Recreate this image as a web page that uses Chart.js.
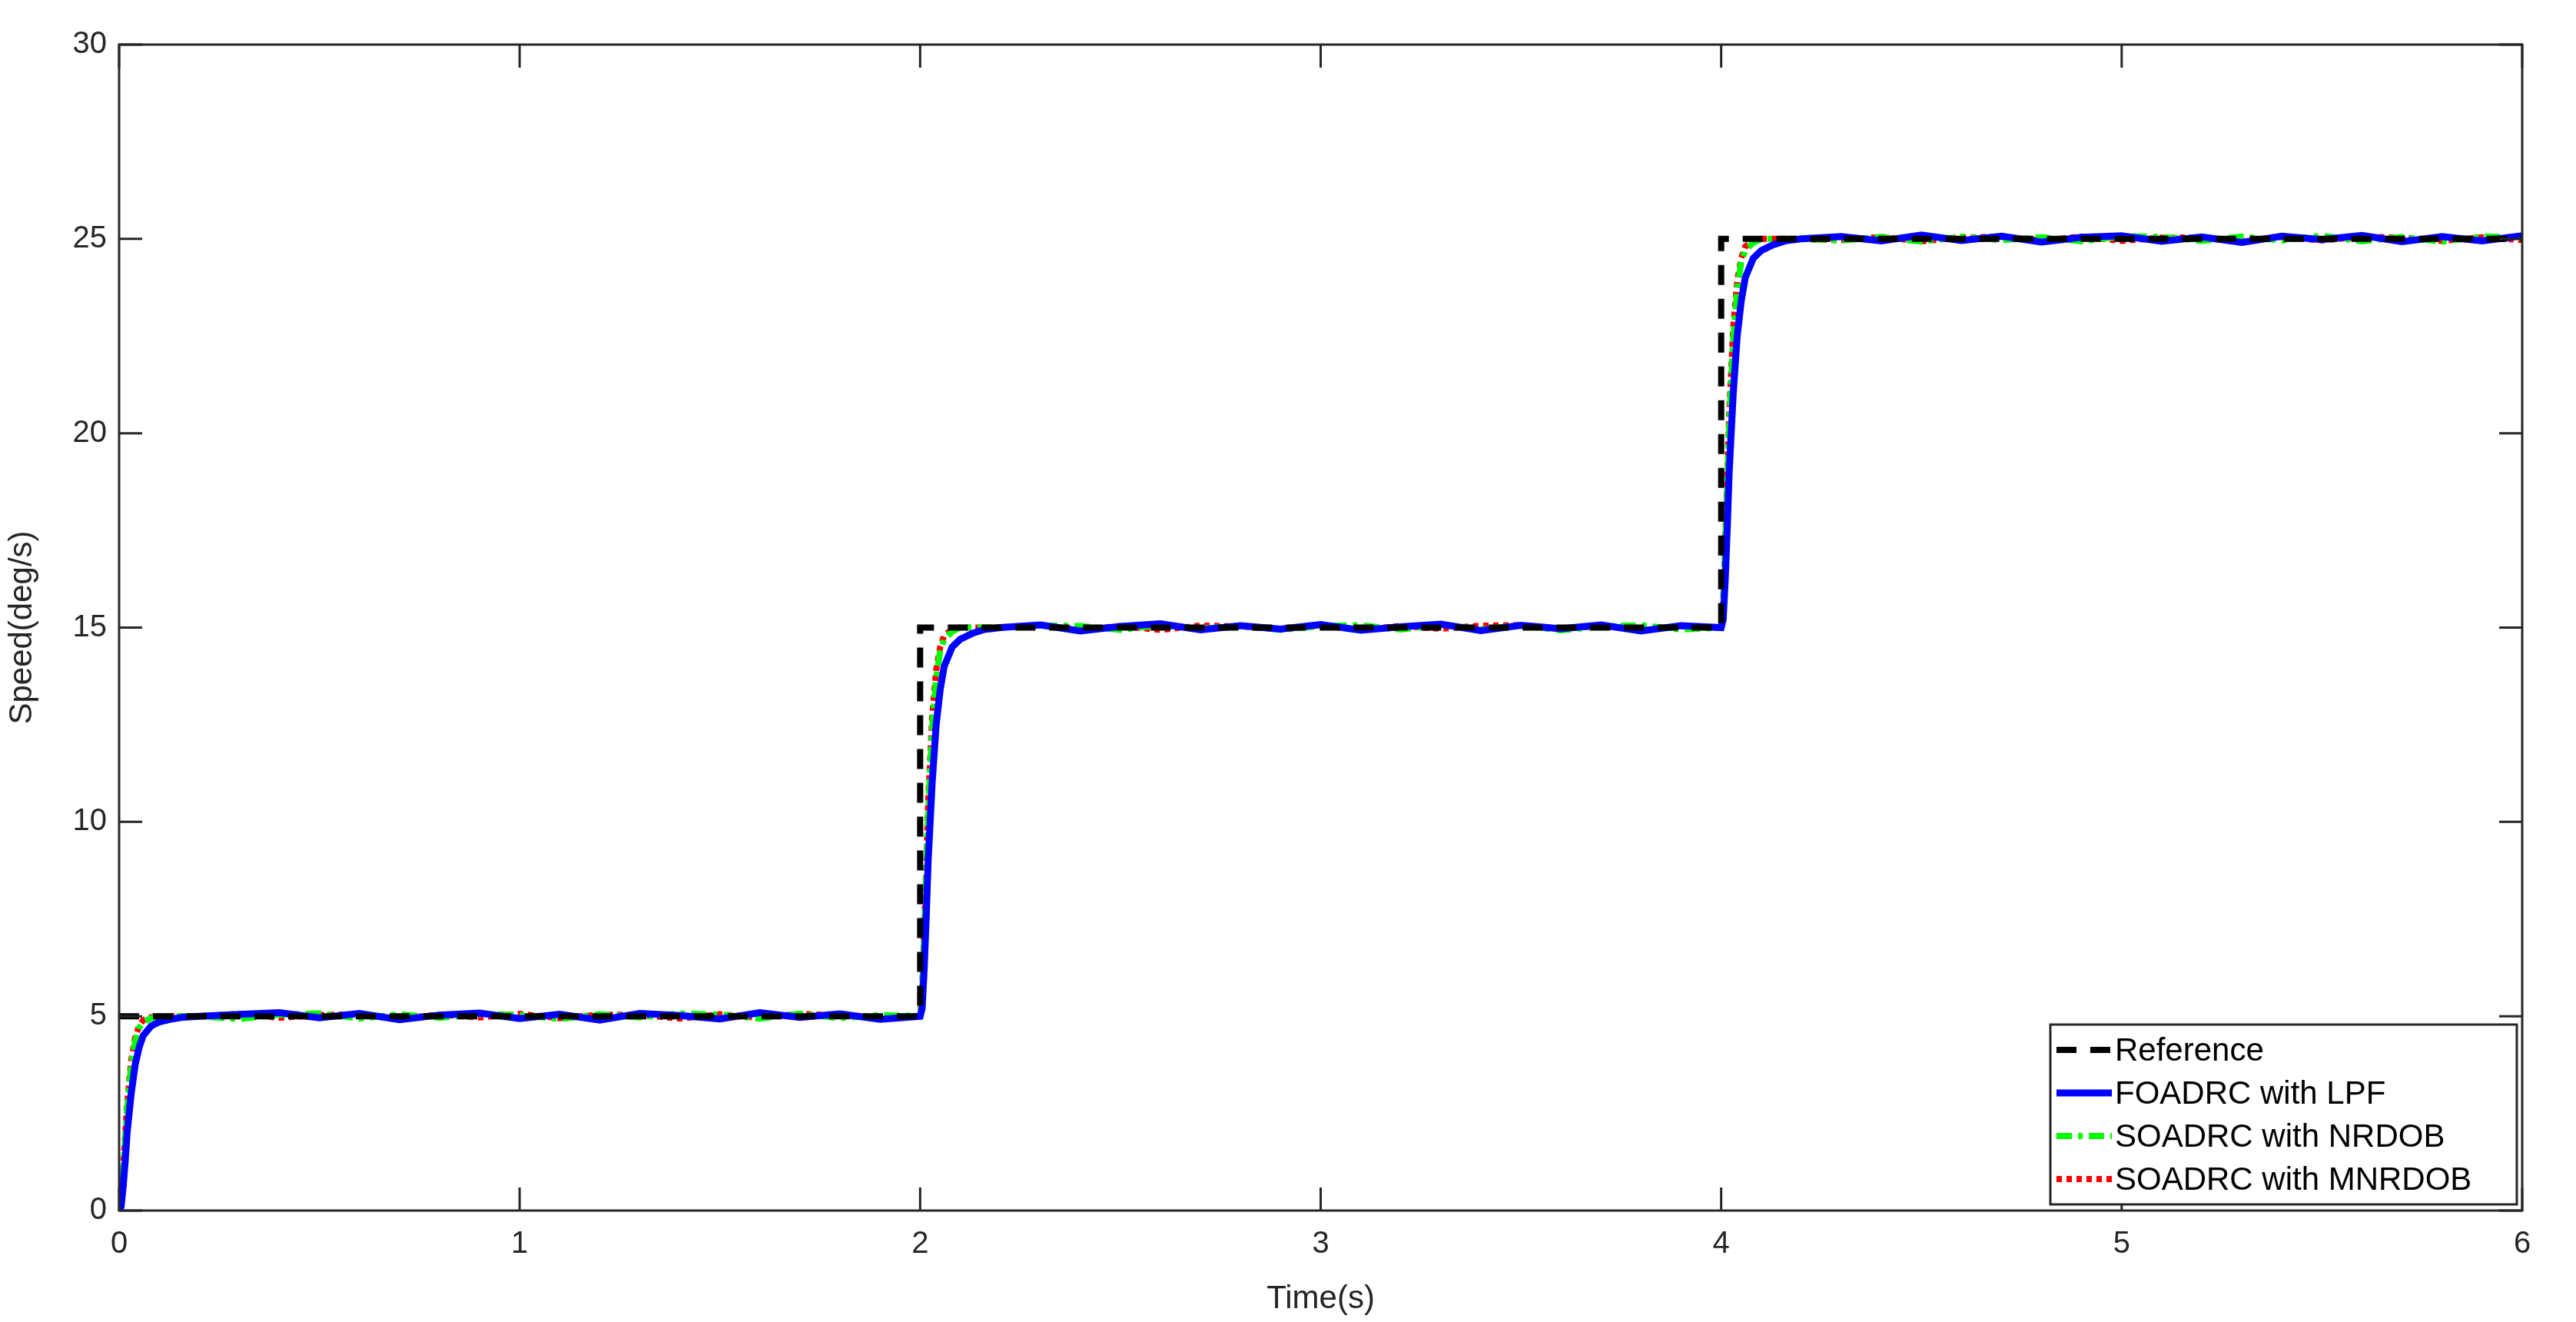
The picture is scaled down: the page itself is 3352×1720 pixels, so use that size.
<!DOCTYPE html>
<html>
<head>
<meta charset="utf-8">
<script src="https://cdn.jsdelivr.net/npm/chart.js@4/dist/chart.umd.min.js"></script>
<style>
  html, body { margin: 0; padding: 0; background: #fff; }
  #wrap { width: 3352px; height: 1720px; }
</style>
</head>
<body>
<div id="wrap"><canvas id="c" width="3352" height="1720"></canvas></div>
<script>
// step levels and tick labels
const levels = [5, 15, 25];
const xTicks = [0, 1, 2, 3, 4, 5, 6];
const yTicks = [0, 5, 10, 15, 20, 25, 30];

// reference command
const refT = [0, 2, 2, 4, 4, 6];
const refY = [5, 5, 15, 15, 25, 25];

// transient samples (time offset after each step, fraction of step reached)
const riseT = [0, 0.005, 0.01, 0.015, 0.02, 0.03, 0.04, 0.05, 0.06, 0.08, 0.1, 0.13, 0.16, 0.2];
const blueRise  = [0, 0.02, 0.12, 0.25, 0.4, 0.6, 0.75, 0.84, 0.9, 0.95, 0.97, 0.985, 0.995, 1.0];
const greenRise = [0, 0.05, 0.2, 0.36, 0.52, 0.74, 0.87, 0.94, 0.97, 0.99, 1.0, 1.0, 1.0, 1.0];
const redRise   = [0, 0.06, 0.22, 0.38, 0.55, 0.77, 0.89, 0.95, 0.98, 0.995, 1.0, 1.0, 1.0, 1.0];

// steady-state noise, sampled every 0.1 s from t = 0 to 6
const blueNoise = [0,0.06,-0.08,0.05,0.09,-0.04,0.07,-0.09,0.03,0.08,-0.06,0.05,-0.1,0.07,0.02,-0.07,0.09,-0.03,0.06,-0.08,
  0.04,0.08,-0.05,0.07,-0.09,0.03,0.1,-0.06,0.05,-0.04,0.08,-0.07,0.02,0.09,-0.08,0.06,-0.03,0.07,-0.09,0.05,
  0.03,0.09,-0.07,0.06,-0.05,0.1,-0.04,0.07,-0.08,0.04,0.08,-0.06,0.05,-0.09,0.07,-0.02,0.09,-0.07,0.06,-0.05,0.08];
const greenNoise = [0,-0.05,0.06,-0.07,0.04,0.07,-0.06,0.05,-0.04,0.06,0.03,-0.07,0.05,-0.03,0.07,0.04,-0.06,0.06,-0.05,0.03,
  -0.04,0.06,-0.07,0.05,0.04,-0.06,0.07,-0.03,0.05,-0.06,0.04,0.06,-0.05,0.07,-0.04,0.05,-0.07,0.03,0.06,-0.05,
  0.05,-0.06,0.07,-0.04,0.05,-0.07,0.06,-0.03,0.04,-0.06,0.07,0.05,-0.05,0.06,-0.04,0.08,-0.06,0.05,-0.07,0.06,0.04];
const redNoise = [0,0.04,-0.05,0.06,-0.04,0.03,0.05,-0.06,0.04,-0.03,0.06,-0.05,0.04,0.03,-0.06,0.05,-0.04,0.06,0.02,-0.05,
  0.05,-0.04,0.03,0.06,-0.05,0.04,-0.06,0.05,0.03,-0.04,0.06,-0.05,0.04,-0.03,0.05,0.06,-0.04,0.05,-0.06,0.03,
  -0.05,0.04,0.06,-0.03,0.05,-0.06,0.04,0.05,-0.04,0.06,-0.05,0.03,0.04,-0.06,0.05,-0.04,0.06,0.03,-0.05,0.04,-0.03];

const stepStart = [0, 2, 4];
const stepFrom  = [0, 5, 15];

function buildSeries(rise, noise) {
  const pts = [];
  stepStart.forEach((t0, i) => {
    riseT.forEach((dt, j) => {
      pts.push({ x: t0 + dt, y: stepFrom[i] + rise[j] * (levels[i] - stepFrom[i]) });
    });
  });
  noise.forEach((n, k) => {
    const t = k / 10;
    const i = t < 2 ? 0 : t < 4 ? 1 : 2;
    if (t - stepStart[i] < 0.25) return;
    pts.push({ x: t, y: levels[i] + n });
  });
  return pts.sort((a, b) => a.x - b.x);
}

const refPts = refT.map((t, i) => ({ x: t, y: refY[i] }));

const series = [
  { label: 'Reference', data: refPts, borderColor: '#000000', borderWidth: 8, borderDash: [26, 18] },
  { label: 'FOADRC with LPF', data: buildSeries(blueRise, blueNoise), borderColor: '#0000ff', borderWidth: 9, borderDash: [] },
  { label: 'SOADRC with NRDOB', data: buildSeries(greenRise, greenNoise), borderColor: '#00ff00', borderWidth: 8, borderDash: [20, 8, 6, 8] },
  { label: 'SOADRC with MNRDOB', data: buildSeries(redRise, redNoise), borderColor: '#ff0000', borderWidth: 8, borderDash: [7, 6] }
];

const FONT = '"Liberation Sans", Arial, sans-serif';

// MATLAB-style box, inward ticks and legend
const boxPlugin = {
  id: 'box',
  afterDatasetsDraw(chart) {
    const { ctx, chartArea: a, scales: { x, y } } = chart;
    ctx.save();
    ctx.strokeStyle = '#262626';
    ctx.lineWidth = 3;
    ctx.strokeRect(a.left, a.top, a.right - a.left, a.bottom - a.top);
    ctx.beginPath();
    xTicks.forEach(v => {
      const px = x.getPixelForValue(v);
      ctx.moveTo(px, a.bottom); ctx.lineTo(px, a.bottom - 30);
      ctx.moveTo(px, a.top); ctx.lineTo(px, a.top + 30);
    });
    yTicks.forEach(v => {
      const py = y.getPixelForValue(v);
      ctx.moveTo(a.left, py); ctx.lineTo(a.left + 30, py);
      ctx.moveTo(a.right, py); ctx.lineTo(a.right - 30, py);
    });
    ctx.stroke();

    // legend
    const lx = 2668, ly = 1333, lw = 607, lh = 234;
    ctx.fillStyle = '#fff';
    ctx.fillRect(lx, ly, lw, lh);
    ctx.strokeStyle = '#262626';
    ctx.lineWidth = 3;
    ctx.strokeRect(lx, ly, lw, lh);
    ctx.font = '42px ' + FONT;
    ctx.textBaseline = 'middle';
    series.forEach((s, i) => {
      const cy = ly + 33 + i * 56;
      ctx.beginPath();
      ctx.strokeStyle = s.borderColor;
      ctx.lineWidth = s.borderWidth;
      ctx.setLineDash(s.borderDash);
      ctx.moveTo(lx + 8, cy); ctx.lineTo(lx + 80, cy);
      ctx.stroke();
      ctx.setLineDash([]);
      ctx.fillStyle = '#000';
      ctx.fillText(s.label, lx + 84, cy + 2);
    });
    ctx.restore();
  }
};

new Chart(document.getElementById('c'), {
  type: 'line',
  data: {
    datasets: series.map(s => ({
      label: s.label, data: s.data, borderColor: s.borderColor, borderWidth: s.borderWidth,
      borderDash: s.borderDash, pointRadius: 0, fill: false, tension: 0
    }))
  },
  options: {
    responsive: false,
    animation: false,
    layout: { padding: { left: 0, right: 70, top: 58, bottom: 0 } },
    plugins: { legend: { display: false }, tooltip: { enabled: false } },
    scales: {
      x: {
        type: 'linear', min: 0, max: 6,
        afterBuildTicks: s => { s.ticks = xTicks.map(v => ({ value: v })); },
        afterFit: s => { s.height = 145; },
        grid: { display: false, drawTicks: false },
        border: { display: false },
        ticks: { color: '#262626', font: { family: FONT, size: 40 }, padding: 20 },
        title: { display: true, text: 'Time(s)', color: '#262626', font: { family: FONT, size: 42 }, padding: { top: 8 } }
      },
      y: {
        type: 'linear', min: 0, max: 30,
        afterBuildTicks: s => { s.ticks = yTicks.map(v => ({ value: v })); },
        afterFit: s => { s.width = 155; },
        grid: { display: false, drawTicks: false },
        border: { display: false },
        ticks: { color: '#262626', font: { family: FONT, size: 40 }, padding: 16 },
        title: { display: true, text: 'Speed(deg/s)', color: '#262626', font: { family: FONT, size: 42 }, padding: { bottom: 4 } }
      }
    }
  },
  plugins: [boxPlugin]
});
</script>
</body>
</html>
